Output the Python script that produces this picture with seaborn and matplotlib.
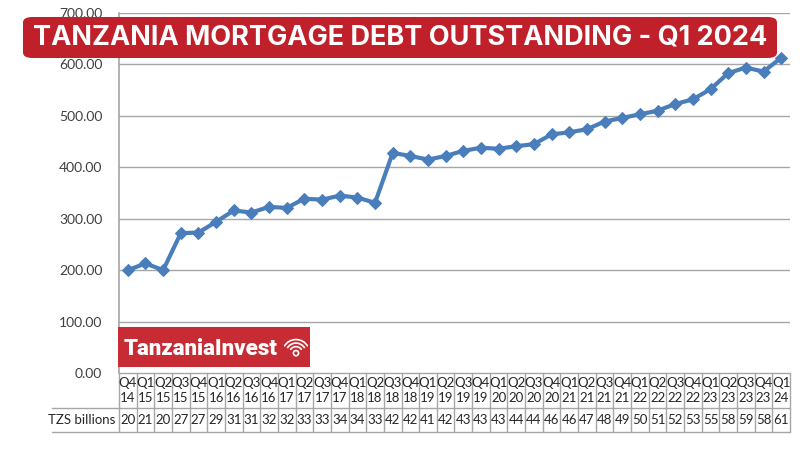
import numpy as np
import pandas as pd
import matplotlib.pyplot as plt
import seaborn as sns
from matplotlib.patches import FancyBboxPatch, Rectangle, Arc, Circle
import matplotlib.transforms as mtransforms

quarters = ["Q4", "Q1", "Q2", "Q3", "Q4", "Q1", "Q2", "Q3", "Q4", "Q1",
            "Q2", "Q3", "Q4", "Q1", "Q2", "Q3", "Q4", "Q1", "Q2", "Q3",
            "Q4", "Q1", "Q2", "Q3", "Q4", "Q1", "Q2", "Q3", "Q4", "Q1",
            "Q2", "Q3", "Q4", "Q1", "Q2", "Q3", "Q4", "Q1"]
years = ["14", "15", "15", "15", "15", "16", "16", "16", "16", "17",
         "17", "17", "17", "18", "18", "18", "18", "19", "19", "19",
         "19", "20", "20", "20", "20", "21", "21", "21", "21", "22",
         "22", "22", "22", "23", "23", "23", "23", "24"]
debt = [200, 213, 200, 272, 273, 294, 316, 312, 323, 321,
        339, 337, 345, 341, 331, 428, 422, 415, 422, 432,
        438, 436, 441, 445, 464, 468, 474, 489, 496, 503,
        510, 523, 532, 552, 583, 594, 586, 613]
yticks = [0, 100, 200, 300, 400, 500, 600, 700]

df = pd.DataFrame({"idx": np.arange(len(debt)), "debt": debt})

sns.set_style("white")
plt.rcParams['font.family'] = ['Lato', 'DejaVu Sans']

fig = plt.figure(figsize=(8, 4.5), dpi=100)
ax = fig.add_axes([119 / 800, 1 - 373 / 450, 671 / 800, 360 / 450])

grid_c = "#a6a6a6"
for t in yticks[1:]:
    ax.axhline(t, color=grid_c, lw=1, zorder=1)

sns.lineplot(data=df, x="idx", y="debt", ax=ax, color="#4a7ebb",
             lw=3, marker="D", markersize=6, markeredgecolor="#4a7ebb",
             zorder=3)

ax.set_xlim(-0.5, len(debt) - 0.5)
ax.set_ylim(0, 700)
ax.set_yticks(yticks)
ax.set_yticklabels([f"{t:.2f}" for t in yticks], fontsize=10, color="#404040")
ax.tick_params(axis="y", length=0, pad=12)
ax.set_xticks([])
ax.set_xlabel("")
ax.set_ylabel("")
for s in ["top", "right", "bottom"]:
    ax.spines[s].set_visible(False)
ax.spines["left"].set_color(grid_c)
ax.spines["left"].set_linewidth(1.2)

# data table under the axis
tr = mtransforms.blended_transform_factory(ax.transData, ax.transAxes)
r1 = -35 / 360
r2 = -59 / 360
n = len(debt)
for i in range(n + 1):
    ax.plot([i - 0.5, i - 0.5], [0, r2], transform=tr, color=grid_c,
            lw=1, clip_on=False)
ax.plot([-0.5, n - 0.5], [0, 0], transform=tr, color=grid_c, lw=1, clip_on=False)
ax.plot([-0.1, 1], [r1, r1], transform=ax.transAxes, color=grid_c, lw=1,
        clip_on=False)
ax.plot([-0.1, 1], [r2, r2], transform=ax.transAxes, color=grid_c, lw=1,
        clip_on=False)
for i in range(n):
    ax.text(i, r1 / 2, f"{quarters[i]}\n{years[i]}", transform=tr,
            ha="center", va="center", fontsize=9.5, color="#262626",
            linespacing=1.25)
    ax.text(i, (r1 + r2) / 2, str(int(debt[i]))[:2], transform=tr,
            ha="center", va="center", fontsize=9.5, color="#262626")
ax.text(-0.005, (r1 + r2) / 2, "TZS billions", transform=ax.transAxes,
        ha="right", va="center", fontsize=9.5, color="#262626")

# title banner
banner = FancyBboxPatch((23 / 800, 1 - 58 / 450), 754 / 800, 41 / 450,
                        boxstyle="round,pad=0,rounding_size=0.012",
                        transform=fig.transFigure, facecolor="#c0202a",
                        edgecolor="none", zorder=5)
fig.patches.append(banner)
fig.text(400 / 800, 1 - 38 / 450, "TANZANIA MORTGAGE DEBT OUTSTANDING - Q1 2024",
         ha="center", va="center", color="white", fontsize=19.5,
         fontweight="bold", family=["Inter", "DejaVu Sans"], zorder=6)

# logo
fig.patches.append(Rectangle((118 / 800, 1 - 367 / 450), 192 / 800, 40 / 450,
                             transform=fig.transFigure, facecolor="#c72b33",
                             edgecolor="none", zorder=5))
fig.text(124 / 800, 1 - 349 / 450, "TanzaniaInvest", ha="left", va="center",
         color="white", fontsize=16, fontweight="heavy",
         family=["Roboto", "DejaVu Sans"], zorder=6)
# small signal icon
icon = fig.add_axes([284 / 800, 1 - 362 / 450, 24 / 800, 26 / 450])
icon.set_zorder(10)
icon.patch.set_alpha(0)
icon.set_xlim(-1, 1)
icon.set_ylim(-1.1, 1.1)
icon.set_aspect("equal")
icon.axis("off")
icon.add_patch(Circle((0, -0.35), 0.22, facecolor="none", edgecolor="white", lw=1.2))
for rad in [0.55, 0.85, 1.15]:
    icon.add_patch(Arc((0, -0.35), 2 * rad, 2 * rad, theta1=30, theta2=150,
                       color="white", lw=1.2))

fig.savefig("out.png", dpi=100)
